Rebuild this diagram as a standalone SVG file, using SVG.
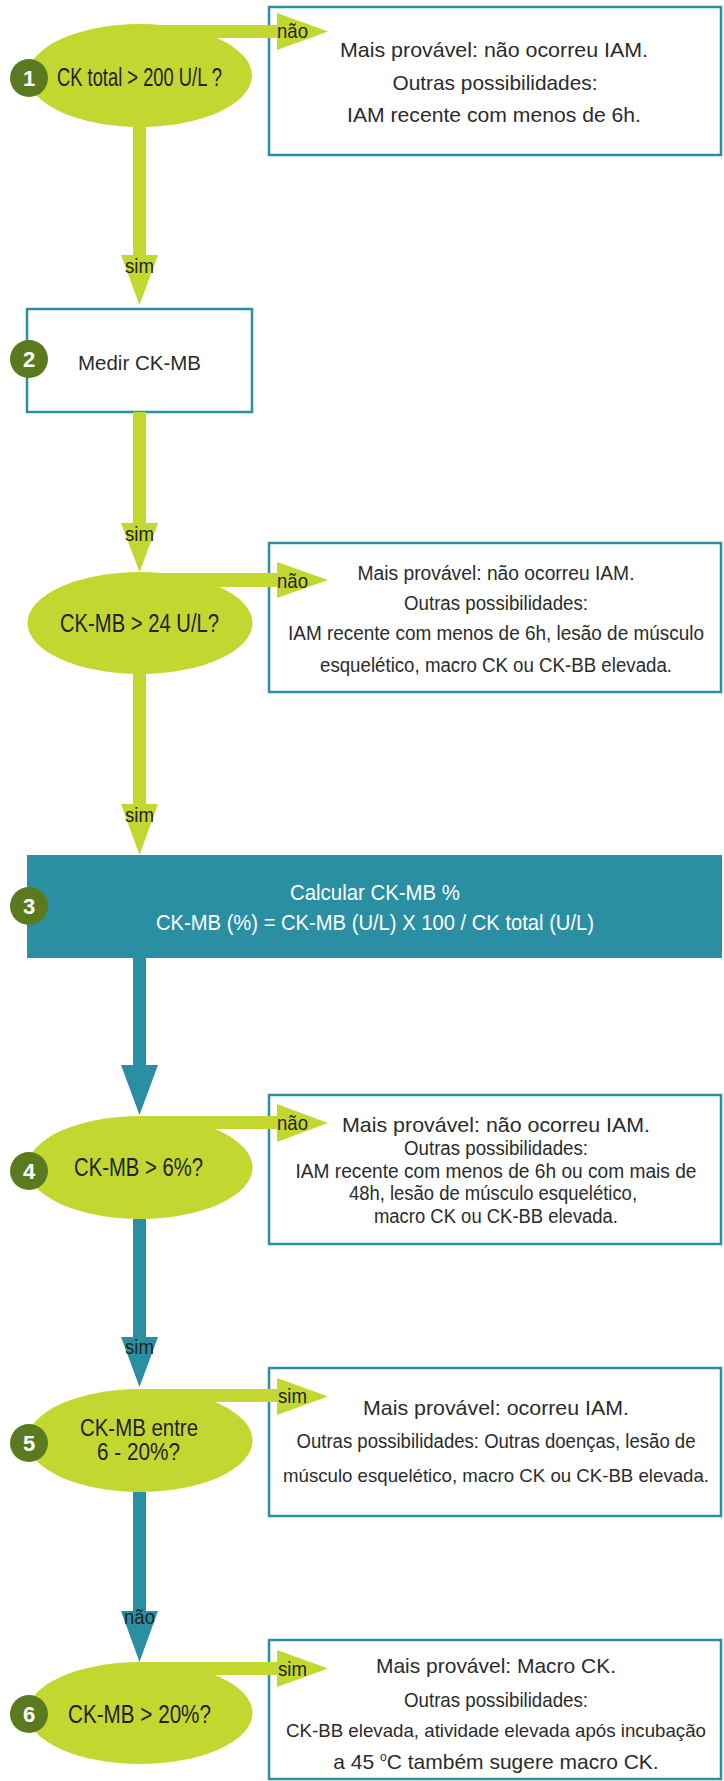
<svg xmlns="http://www.w3.org/2000/svg" width="724" height="1781" viewBox="0 0 724 1781">
<style>
.bg{fill:#ffffff}
.box{fill:#ffffff;stroke:#2b8fa4;stroke-width:2.5}
.tealbox{fill:#2b8fa4}
.ell{fill:#c2d72f}
.num{fill:#5b7a1f}
.numt{font-family:"Liberation Sans",Arial,sans-serif;font-weight:bold;font-size:22px;fill:#ffffff;text-anchor:middle}
.lime{fill:#c2d72f}
.teal{fill:#2b8fa4}
.et{font-family:"Liberation Sans",Arial,sans-serif;font-size:25px;fill:#231f20;text-anchor:middle}
.ets{font-family:"Liberation Sans",Arial,sans-serif;font-size:23px;fill:#231f20;text-anchor:middle}
.bt{font-family:"Liberation Sans",Arial,sans-serif;font-size:21px;fill:#2b2b2b;text-anchor:middle}
.bts{font-family:"Liberation Sans",Arial,sans-serif;font-size:20px;fill:#2b2b2b;text-anchor:middle}
.btx{font-family:"Liberation Sans",Arial,sans-serif;font-size:19px;fill:#2b2b2b;text-anchor:middle}
.wt{font-family:"Liberation Sans",Arial,sans-serif;font-size:22px;fill:#ffffff;text-anchor:middle}
.lbl{font-family:"Liberation Sans",Arial,sans-serif;font-size:21px;fill:#231f20}
.lblc{font-family:"Liberation Sans",Arial,sans-serif;font-size:21px;fill:#231f20;text-anchor:middle}
</style>
<rect class="bg" x="0" y="0" width="724" height="1781"/>

<g id="node-result1">
<rect class="box" x="269" y="7" width="452" height="148"/>
<text class="bt" x="494" y="57" textLength="308" lengthAdjust="spacingAndGlyphs">Mais provável: não ocorreu IAM.</text>
<text class="bt" x="495" y="90" textLength="205" lengthAdjust="spacingAndGlyphs">Outras possibilidades:</text>
<text class="bt" x="494" y="122" textLength="294" lengthAdjust="spacingAndGlyphs">IAM recente com menos de 6h.</text>
</g>

<g id="node-result3">
<rect class="box" x="269" y="543" width="452" height="149"/>
<text class="bts" x="496" y="580" textLength="277" lengthAdjust="spacingAndGlyphs">Mais provável: não ocorreu IAM.</text>
<text class="bts" x="496" y="610" textLength="184" lengthAdjust="spacingAndGlyphs">Outras possibilidades:</text>
<text class="bts" x="496" y="640" textLength="416" lengthAdjust="spacingAndGlyphs">IAM recente com menos de 6h, lesão de músculo</text>
<text class="bts" x="496" y="672" textLength="352" lengthAdjust="spacingAndGlyphs">esquelético, macro CK ou CK-BB elevada.</text>
</g>

<g id="node-result4">
<rect class="box" x="269" y="1095" width="452" height="149"/>
<text class="bt" x="496" y="1132" textLength="308" lengthAdjust="spacingAndGlyphs">Mais provável: não ocorreu IAM.</text>
<text class="bts" x="496" y="1155" textLength="184" lengthAdjust="spacingAndGlyphs">Outras possibilidades:</text>
<text class="bts" x="496" y="1178" textLength="401" lengthAdjust="spacingAndGlyphs">IAM recente com menos de 6h ou com mais de</text>
<text class="bts" x="493" y="1200" textLength="288" lengthAdjust="spacingAndGlyphs">48h, lesão de músculo esquelético,</text>
<text class="bts" x="496" y="1223" textLength="244" lengthAdjust="spacingAndGlyphs">macro CK ou CK-BB elevada.</text>
</g>

<g id="node-result5">
<rect class="box" x="269" y="1368" width="452" height="148"/>
<text class="bt" x="496" y="1415" textLength="266" lengthAdjust="spacingAndGlyphs">Mais provável: ocorreu IAM.</text>
<text class="bts" x="496" y="1448" textLength="399" lengthAdjust="spacingAndGlyphs">Outras possibilidades: Outras doenças, lesão de</text>
<text class="btx" x="496" y="1482" textLength="426" lengthAdjust="spacingAndGlyphs">músculo esquelético, macro CK ou CK-BB elevada.</text>
</g>

<g id="node-result6">
<rect class="box" x="269" y="1640" width="452" height="139"/>
<text class="bt" x="496" y="1673" textLength="240" lengthAdjust="spacingAndGlyphs">Mais provável: Macro CK.</text>
<text class="bt" x="496" y="1707" textLength="184" lengthAdjust="spacingAndGlyphs">Outras possibilidades:</text>
<text class="btx" x="496" y="1737" textLength="420" lengthAdjust="spacingAndGlyphs">CK-BB elevada, atividade elevada após incubação</text>
<text class="bt" x="496" y="1769">a 45 <tspan font-size="12" dy="-8">o</tspan><tspan dy="8">C também sugere macro CK.</tspan></text>
</g>

<g id="node-1">
<ellipse class="ell" cx="140" cy="75.5" rx="112" ry="51.5"/>
<text class="et" x="139.5" y="86" textLength="165" lengthAdjust="spacingAndGlyphs">CK total &gt; 200 U/L ?</text>
<circle class="num" cx="29" cy="78" r="19"/>
<text class="numt" x="29" y="86">1</text>
</g>

<g id="node-2">
<rect class="box" x="27" y="309" width="225" height="103"/>
<text class="bt" x="139.5" y="370" textLength="123" lengthAdjust="spacingAndGlyphs">Medir CK-MB</text>
<circle class="num" cx="29" cy="359" r="19"/>
<text class="numt" x="29" y="367">2</text>
</g>

<g id="node-ck24">
<ellipse class="ell" cx="140" cy="623" rx="112.5" ry="51"/>
<text class="et" x="139.5" y="632" textLength="159" lengthAdjust="spacingAndGlyphs">CK-MB &gt; 24 U/L?</text>
</g>

<g id="node-3">
<rect class="tealbox" x="27" y="855" width="695" height="103"/>
<text class="wt" x="375" y="900" textLength="170" lengthAdjust="spacingAndGlyphs">Calcular CK-MB %</text>
<text class="wt" x="375" y="930" textLength="438" lengthAdjust="spacingAndGlyphs">CK-MB (%) = CK-MB (U/L) X 100 / CK total (U/L)</text>
<circle class="num" cx="29" cy="906" r="19"/>
<text class="numt" x="29" y="914">3</text>
</g>

<g id="node-4">
<ellipse class="ell" cx="140" cy="1167.5" rx="112.5" ry="51.5"/>
<text class="et" x="138.5" y="1176" textLength="129" lengthAdjust="spacingAndGlyphs">CK-MB &gt; 6%?</text>
<circle class="num" cx="29" cy="1171" r="19"/>
<text class="numt" x="29" y="1179">4</text>
</g>

<g id="node-5">
<ellipse class="ell" cx="140" cy="1440.5" rx="112.5" ry="51.5"/>
<text class="ets" x="139" y="1436" textLength="118" lengthAdjust="spacingAndGlyphs">CK-MB entre</text>
<text class="ets" x="138.5" y="1460" textLength="83" lengthAdjust="spacingAndGlyphs">6 - 20%?</text>
<circle class="num" cx="29" cy="1443" r="19"/>
<text class="numt" x="29" y="1451">5</text>
</g>

<g id="node-6">
<ellipse class="ell" cx="140" cy="1713" rx="112.5" ry="51"/>
<text class="et" x="139.5" y="1723" textLength="143" lengthAdjust="spacingAndGlyphs">CK-MB &gt; 20%?</text>
<circle class="num" cx="29" cy="1714" r="19"/>
<text class="numt" x="29" y="1722">6</text>
</g>

<g id="connectors">
<polygon class="lime" points="140,25 277,25 277,13 328,31.5 277,50 277,38 140,38"/>
<polygon class="lime" points="133,125 146,125 146,255 158,255 139.5,305 121,255 133,255"/>
<polygon class="lime" points="133,412 146,412 146,523 158,523 139.5,572 121,523 133,523"/>
<polygon class="lime" points="140,573 277,573 277,562 328,580 277,598 277,587 140,587"/>
<polygon class="lime" points="133,672 146,672 146,804 158,804 139.5,855 121,804 133,804"/>
<polygon class="teal" points="133,958 146,958 146,1065 158,1065 139.5,1115 121,1065 133,1065"/>
<polygon class="lime" points="140,1116 277,1116 277,1104 328,1123 277,1142 277,1129 140,1129"/>
<polygon class="teal" points="133,1219 146,1219 146,1337 158,1337 139.5,1387 121,1337 133,1337"/>
<polygon class="lime" points="140,1389 277,1389 277,1378 328,1396.5 277,1415 277,1402 140,1402"/>
<polygon class="teal" points="133,1492 146,1492 146,1611 158,1611 139.5,1662 121,1611 133,1611"/>
<polygon class="lime" points="140,1662 277,1662 277,1650 328,1668.5 277,1687 277,1675 140,1675"/>
<text class="lbl" x="277" y="38" textLength="31" lengthAdjust="spacingAndGlyphs">não</text>
<text class="lblc" x="139.5" y="273" textLength="29" lengthAdjust="spacingAndGlyphs">sim</text>
<text class="lblc" x="139.5" y="541" textLength="29" lengthAdjust="spacingAndGlyphs">sim</text>
<text class="lbl" x="277" y="588" textLength="31" lengthAdjust="spacingAndGlyphs">não</text>
<text class="lblc" x="139.5" y="822" textLength="29" lengthAdjust="spacingAndGlyphs">sim</text>
<text class="lbl" x="277" y="1130" textLength="31" lengthAdjust="spacingAndGlyphs">não</text>
<text class="lblc" x="139.5" y="1354" textLength="29" lengthAdjust="spacingAndGlyphs">sim</text>
<text class="lbl" x="278" y="1403" textLength="29" lengthAdjust="spacingAndGlyphs">sim</text>
<text class="lblc" x="139.5" y="1624" textLength="31" lengthAdjust="spacingAndGlyphs">não</text>
<text class="lbl" x="278" y="1676" textLength="29" lengthAdjust="spacingAndGlyphs">sim</text>
</g>
</svg>
